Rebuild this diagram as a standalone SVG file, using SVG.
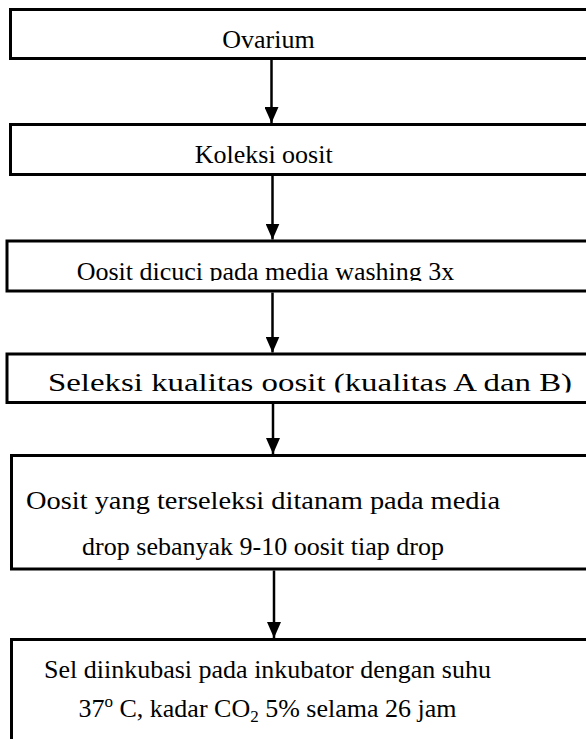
<svg xmlns="http://www.w3.org/2000/svg" width="586" height="739" viewBox="0 0 586 739">
  <style>
    .box { fill: #ffffff; stroke: #000000; stroke-width: 3; }
    .lbl { font-family: "Liberation Serif", "Times New Roman", serif; font-size: 26px; fill: #000000; text-anchor: middle; }
    .sm { font-size: 17px; }
    .edge { stroke: #000000; stroke-width: 2.5; fill: none; marker-end: url(#arrow); }
  </style>
  <defs>
    <!-- solid triangular arrowhead, tip at the end of the line -->
    <marker id="arrow" markerWidth="16" markerHeight="14" refX="16" refY="7" orient="auto" markerUnits="userSpaceOnUse" viewBox="0 0 16 14">
      <path d="M0,0 L16,7 L0,14 Z" fill="#000000"/>
    </marker>
    <clipPath id="clip3"><rect x="0" y="240" width="586" height="41"/></clipPath>
    <clipPath id="clip4"><rect x="0" y="353" width="586" height="39.5"/></clipPath>
  </defs>
  <rect width="586" height="739" fill="#ffffff"/>

  <g id="connectors">
    <line class="edge" x1="271.5" y1="60" x2="271.5" y2="123"/>
    <line class="edge" x1="272.5" y1="176" x2="272.5" y2="239.5"/>
    <line class="edge" x1="272.5" y1="292.5" x2="272.5" y2="352.5"/>
    <line class="edge" x1="273" y1="403.5" x2="273" y2="454"/>
    <line class="edge" x1="274" y1="570.5" x2="274" y2="638"/>
  </g>

  <g id="node-ovarium">
    <rect class="box" x="10.5" y="9.5" width="600" height="49"/>
    <text class="lbl" font-family="Liberation Serif, serif" x="268.4" y="48">Ovarium</text>
  </g>

  <g id="node-koleksi">
    <rect class="box" x="10.5" y="124.5" width="600" height="50"/>
    <text class="lbl" font-family="Liberation Serif, serif" x="263.7" y="163">Koleksi oosit</text>
  </g>

  <g id="node-washing">
    <rect class="box" x="7" y="241" width="600" height="50"/>
    <text class="lbl" font-family="Liberation Serif, serif" x="265.5" y="280" clip-path="url(#clip3)">Oosit dicuci pada media washing 3x</text>
  </g>

  <g id="node-seleksi">
    <rect class="box" x="7" y="354" width="600" height="48.5"/>
    <text class="lbl" font-family="Liberation Serif, serif" x="310" y="391" textLength="524" lengthAdjust="spacingAndGlyphs" clip-path="url(#clip4)">Seleksi kualitas oosit (kualitas A dan B)</text>
  </g>

  <g id="node-tanam">
    <rect class="box" x="11.5" y="455.5" width="600" height="113.5"/>
    <text class="lbl" font-family="Liberation Serif, serif" x="263" y="509" textLength="474" lengthAdjust="spacingAndGlyphs">Oosit yang terseleksi ditanam pada media</text>
    <text class="lbl" font-family="Liberation Serif, serif" x="263" y="555">drop sebanyak 9-10 oosit tiap drop</text>
  </g>

  <g id="node-inkubasi">
    <rect class="box" x="11.5" y="639.5" width="600" height="120"/>
    <text class="lbl" font-family="Liberation Serif, serif" x="267.5" y="678">Sel diinkubasi pada inkubator dengan suhu</text>
    <text class="lbl" font-family="Liberation Serif, serif" x="267.5" y="717">37<tspan class="sm" dy="-10">o</tspan><tspan dy="10"> C, kadar CO</tspan><tspan class="sm" dy="5">2</tspan><tspan dy="-5"> 5% selama 26 jam</tspan></text>
  </g>
</svg>
